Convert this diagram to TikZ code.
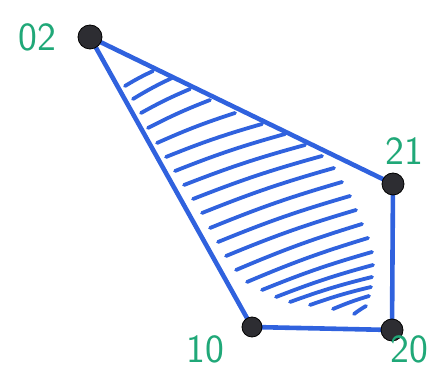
\documentclass[tikz,border=0pt]{standalone}
\usepackage{tikz}
\usetikzlibrary{positioning}
\definecolor{penBlue}{RGB}{48,98,222}
\definecolor{penGreen}{RGB}{32,168,120}
\definecolor{dotGray}{RGB}{45,45,50}

\begin{document}
\begin{tikzpicture}[
    x=1pt, y=-1pt,
    vert/.style={circle, fill=dotGray, draw=black, line width=0.8pt,
                 inner sep=0pt, minimum size=22pt},
    lab/.style={text=penGreen, font=\fontsize{40}{40}\selectfont\sffamily,
                inner sep=2pt},
    edge/.style={draw=penBlue, line width=4.6pt, line cap=round},
    hatch/.style={draw=penBlue, line width=3.8pt, line cap=round},
  ]
    \useasboundingbox (0,0) rectangle (448,371);

    % Hatching
    \foreach \xa/\ya/\xb/\yb in {125/86/153/71, 133/99/172/78, 141/113/190/89,
        148/128/210/100, 157/143/235/113, 166/157/262/124, 175/171/285/134,
        184/185/305/145, 193/199/322/156, 202/213/334/168, 210/228/342/182,
        218/242/350/196, 226/256/356/210, 236/270/362/224, 247/282/368/238,
        262/290/372/252, 276/297/373/265, 290/302/372/277, 310/305/371/287,
        333/309/369/296, 354/314/366/306}
      \draw[hatch] (\xa,\ya) to[bend left=3] (\xb,\yb);

    % Edges
    \coordinate (c02) at (90,37);
    \coordinate (c21) at (393,184);
    \coordinate (c20) at (392,330);
    \coordinate (c10) at (252,327);
    \draw[edge] (c02) -- (c21) -- (c20) -- (c10) -- cycle;

    % Vertices
    \node[vert, minimum size=24pt] (v02) at (c02) {};
    \node[vert] (v21) at (c21) {};
    \node[vert] (v20) at (c20) {};
    \node[vert, minimum size=20pt] (v10) at (c10) {};

    % Labels
    \node[lab, left=19pt of v02]                  (l02) {02};
    \node[lab, above right=9pt and -18pt of v21]  (l21) {21};
    \node[lab, below left=-1pt and 18pt of v10]   (l10) {10};
    \node[lab, below right=-5pt and -12pt of v20] (l20) {20};
  \end{tikzpicture}
\end{document}
